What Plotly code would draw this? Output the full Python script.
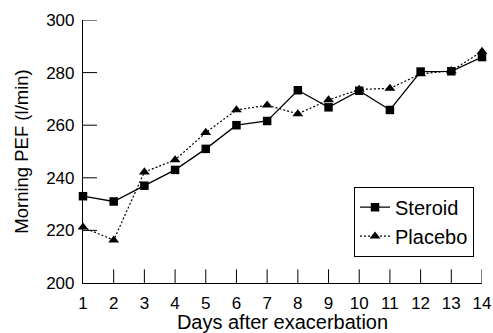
import plotly.graph_objects as go

days = list(range(1, 15))
steroid = [233, 231, 237, 243, 251, 260, 261.6, 273.3, 266.8, 273.1, 265.8, 280.4, 280.5, 285.9]
placebo = [221.2, 216.3, 242.2, 246.8, 257.2, 265.8, 267.6, 264.3, 269.6, 273.6, 274, 279.5, 280.7, 288]
x_ticks = days
y_ticks = [200, 220, 240, 260, 280, 300]

FAM = "Liberation Sans, Arial, sans-serif"
font = dict(family=FAM, size=17, color="black")

fig = go.Figure()
fig.add_trace(go.Scatter(x=days, y=steroid, name="Steroid", mode="lines+markers",
                         line=dict(color="black", width=1.3),
                         marker=dict(symbol="square", size=8.5, color="black")))
fig.add_trace(go.Scatter(x=days, y=placebo, name="Placebo", mode="lines+markers",
                         line=dict(color="black", width=1.2, dash="2px,2px"),
                         marker=dict(symbol="triangle-up", size=9.5, color="black")))

# inside tick marks drawn as shapes on the data scales
for xv in x_ticks[1:]:
    fig.add_shape(type="line", xref="x", yref="y domain", x0=xv, x1=xv, y0=0, y1=0.052,
                  line=dict(color="black", width=1), layer="above")
for yv in y_ticks[1:]:
    fig.add_shape(type="line", xref="x domain", yref="y", x0=0, x1=0.035, y0=yv, y1=yv,
                  line=dict(color="black", width=1), layer="above")

fig.update_layout(
    width=493, height=333,
    margin=dict(l=83, r=11, t=20, b=50),
    paper_bgcolor="white", plot_bgcolor="rgba(0,0,0,0)",
    font=font,
    showlegend=True,
    legend=dict(x=0.98, y=0.10, xanchor="right", yanchor="bottom",
                bordercolor="black", borderwidth=1, bgcolor="white",
                font=dict(size=20), tracegroupgap=0, itemwidth=30),
    xaxis=dict(range=[1, 14], tickmode="array", tickvals=x_ticks, ticks="",
               showline=True, linecolor="black", linewidth=1.2, ticklabelstandoff=4,
               showgrid=False, zeroline=False, automargin=False,
               title=dict(text="Days after exacerbation", standoff=9)),
    yaxis=dict(range=[200, 300], tickmode="array", tickvals=y_ticks, ticks="",
               showline=True, linecolor="black", linewidth=1.2, ticklabelstandoff=4,
               showgrid=False, zeroline=False, automargin=False,
               title=dict(text="Morning PEF (l/min)", standoff=12,
                          font=dict(family=FAM, size=18.5, color="black"))),
)
fig.update_traces(cliponaxis=False)

fig.write_html("out.html")
